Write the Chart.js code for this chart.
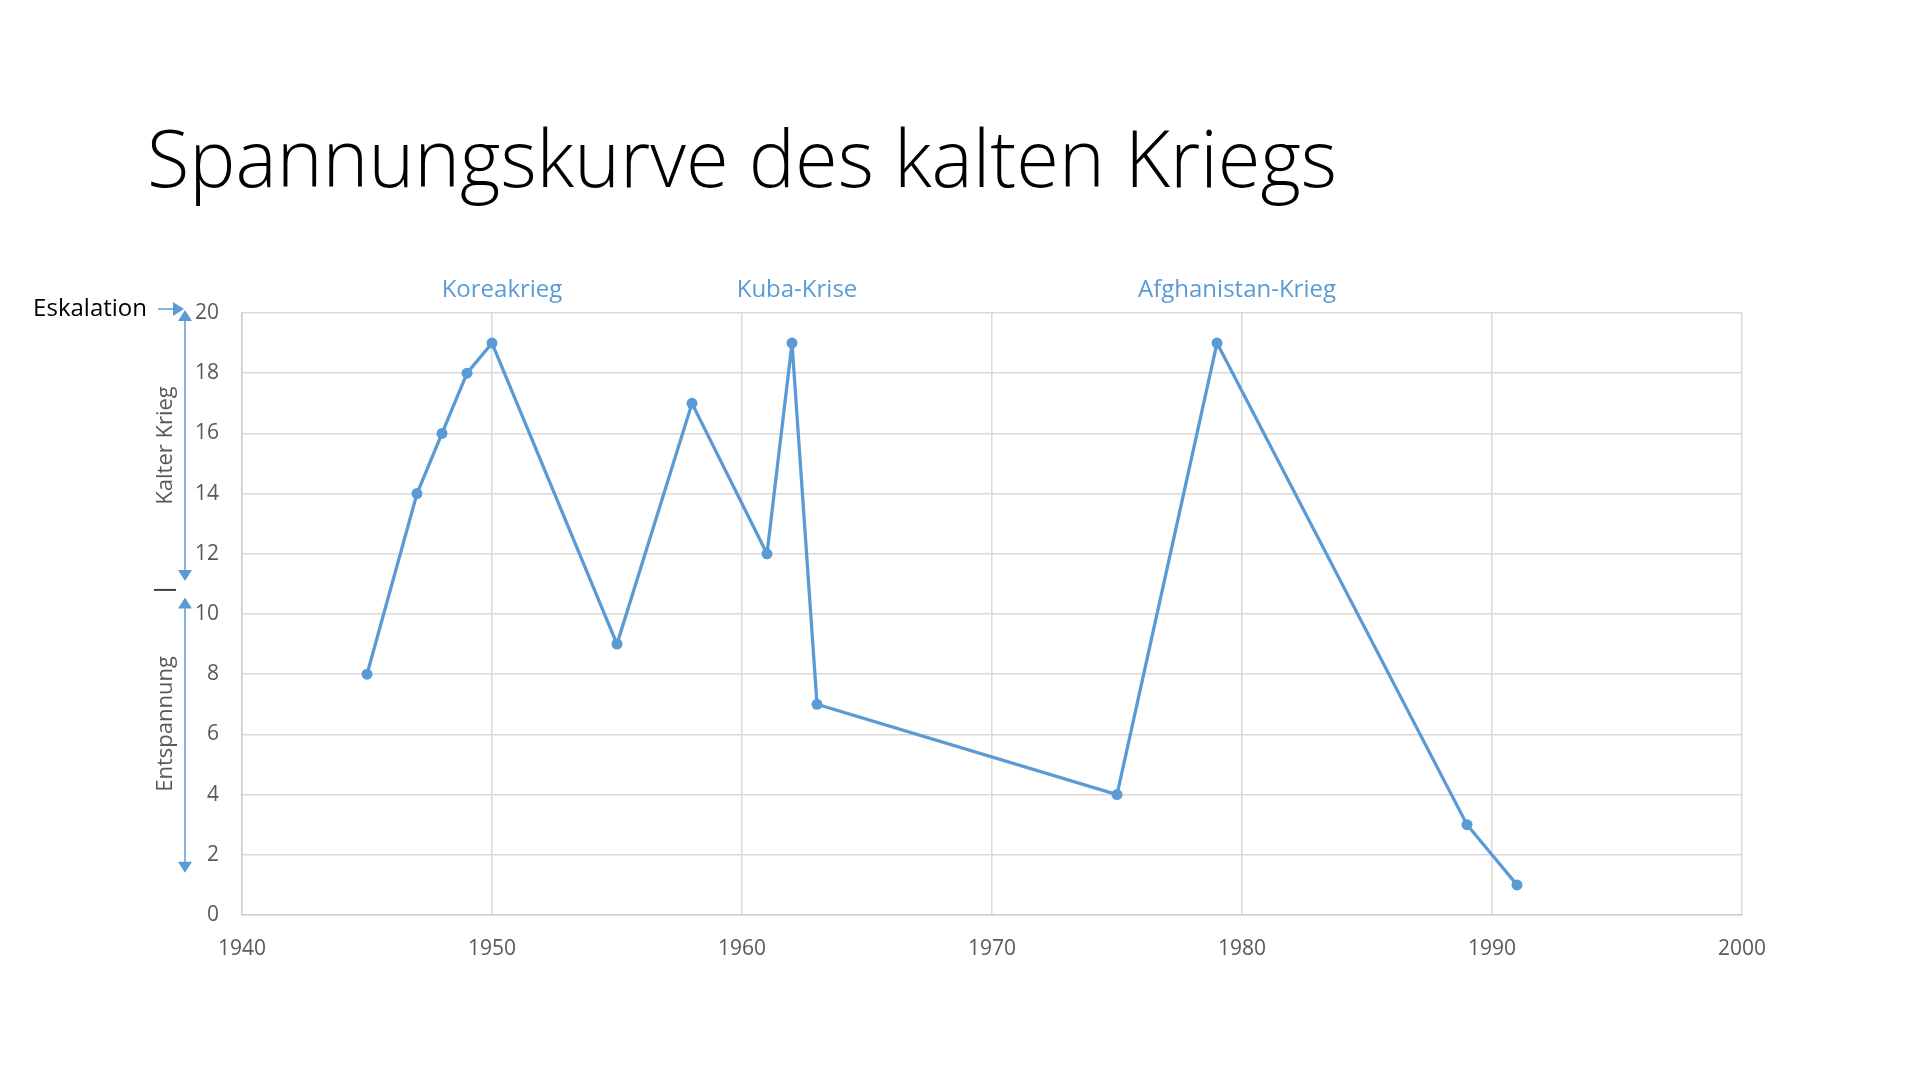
<!DOCTYPE html>
<html>
<head>
<meta charset="utf-8">
<script src="https://cdn.jsdelivr.net/npm/chart.js@4/dist/chart.umd.min.js"></script>
<style>
  html, body { margin: 0; padding: 0; background: #ffffff; }
  #wrap { width: 1920px; height: 1080px; position: relative; }
</style>
</head>
<body>
<div id="wrap"><canvas id="c" width="1920" height="1080"></canvas></div>
<script>
// ---- data ----
const years   = [1945, 1947, 1948, 1949, 1950, 1955, 1958, 1961, 1962, 1963, 1975, 1979, 1989, 1991];
const tension = [8, 14, 16, 18, 19, 9, 17, 12, 19, 7, 4, 19, 3, 1];
const xTicks  = [1940, 1950, 1960, 1970, 1980, 1990, 2000];
const yTicks  = [0, 2, 4, 6, 8, 10, 12, 14, 16, 18, 20];
const eventNames = ['Koreakrieg', 'Kuba-Krise', 'Afghanistan-Krieg'];
const eventYears = [1950.4, 1962.2, 1979.8];
const titleText = 'Spannungskurve des kalten Kriegs';
const topLabel = 'Eskalation';
const bandLabels = ['Kalter Krieg', 'Entspannung'];
const bandRanges = [[20, 11.1], [10.45, 1.4]];

const BLUE = '#5b9bd5';
const GRAY_TEXT = '#595959';
const GRID = '#d9d9d9';
const FONT = '"Open Sans", "DejaVu Sans", sans-serif';

function arrowHead(ctx, x, y, dir) {
  const s = 7, l = 11;
  ctx.beginPath();
  if (dir === 'up') { ctx.moveTo(x, y); ctx.lineTo(x - s, y + l); ctx.lineTo(x + s, y + l); }
  else if (dir === 'down') { ctx.moveTo(x, y); ctx.lineTo(x - s, y - l); ctx.lineTo(x + s, y - l); }
  else { ctx.moveTo(x, y); ctx.lineTo(x - l, y - s); ctx.lineTo(x - l, y + s); }
  ctx.closePath();
  ctx.fill();
}

const decor = {
  id: 'decor',
  afterDraw(chart) {
    const ctx = chart.ctx;
    const xs = chart.scales.x, ys = chart.scales.y;
    const area = chart.chartArea;
    ctx.save();

    // Title
    ctx.fillStyle = '#000000';
    ctx.font = '300 80px ' + FONT;
    ctx.textBaseline = 'alphabetic';
    ctx.textAlign = 'left';
    const tw = ctx.measureText(titleText).width;
    const targetW = 1190;
    ctx.save();
    ctx.translate(147, 187);
    ctx.scale(targetW / tw, 1);
    ctx.fillText(titleText, 0, 0);
    ctx.restore();

    // Event labels
    ctx.fillStyle = BLUE;
    ctx.font = '24px ' + FONT;
    ctx.textAlign = 'center';
    ctx.textBaseline = 'middle';
    eventNames.forEach((n, i) => {
      ctx.fillText(n, xs.getPixelForValue(eventYears[i]), area.top - 23);
    });

    // Eskalation label + small arrow
    const yTop = ys.getPixelForValue(20);
    ctx.fillStyle = '#000000';
    ctx.font = '24px ' + FONT;
    ctx.textAlign = 'right';
    ctx.textBaseline = 'middle';
    ctx.fillText(topLabel, 147, yTop - 4);

    const ax = 185;
    ctx.strokeStyle = BLUE;
    ctx.fillStyle = BLUE;
    ctx.lineWidth = 1.5;
    ctx.beginPath();
    ctx.moveTo(158, yTop - 4);
    ctx.lineTo(176, yTop - 4);
    ctx.stroke();
    arrowHead(ctx, 184, yTop - 4, 'right');

    // vertical double arrows
    bandRanges.forEach(r => {
      const y1 = ys.getPixelForValue(r[0]) - 3;
      const y2 = ys.getPixelForValue(r[1]);
      ctx.strokeStyle = BLUE;
      ctx.fillStyle = BLUE;
      ctx.lineWidth = 1.5;
      ctx.beginPath();
      ctx.moveTo(ax, y1 + 8);
      ctx.lineTo(ax, y2 - 8);
      ctx.stroke();
      arrowHead(ctx, ax, y1, 'up');
      arrowHead(ctx, ax, y2, 'down');
    });

    // separator dash
    ctx.strokeStyle = '#404040';
    ctx.lineWidth = 2;
    const yDash = ys.getPixelForValue(10.8);
    ctx.beginPath();
    ctx.moveTo(154, yDash);
    ctx.lineTo(176, yDash);
    ctx.stroke();

    // rotated band labels
    ctx.fillStyle = GRAY_TEXT;
    ctx.font = '22px ' + FONT;
    ctx.textAlign = 'center';
    ctx.textBaseline = 'middle';
    const centers = [15.6, 6.35];
    bandLabels.forEach((t, i) => {
      ctx.save();
      ctx.translate(166, ys.getPixelForValue(centers[i]));
      ctx.rotate(-Math.PI / 2);
      ctx.fillText(t, 0, 0);
      ctx.restore();
    });

    ctx.restore();
  }
};

new Chart(document.getElementById('c'), {
  type: 'line',
  data: {
    datasets: [{
      data: years.map((y, i) => ({ x: y, y: tension[i] })),
      borderColor: BLUE,
      backgroundColor: BLUE,
      borderWidth: 3.3,
      pointRadius: 5.5,
      pointBackgroundColor: BLUE,
      pointBorderColor: BLUE,
      pointBorderWidth: 0,
      tension: 0,
      fill: false
    }]
  },
  options: {
    responsive: false,
    animation: false,
    devicePixelRatio: 1,
    layout: { padding: { top: 313, right: 178, left: 0, bottom: 0 } },
    plugins: { legend: { display: false }, tooltip: { enabled: false }, title: { display: false } },
    scales: {
      x: {
        type: 'linear',
        min: 1940, max: 2000,
        afterFit(s) { s.height = 1080 - 915; },
        afterBuildTicks(s) { s.ticks = xTicks.map(v => ({ value: v })); },
        ticks: {
          callback: v => String(v),
          color: GRAY_TEXT,
          font: { family: FONT, size: 21 },
          padding: 21,
          maxRotation: 0,
          autoSkip: false
        },
        grid: { color: GRID, lineWidth: 1.5, drawTicks: false },
        border: { color: '#cfcfcf', width: 1.5 }
      },
      y: {
        min: 0, max: 20,
        afterFit(s) { s.width = 242; },
        afterBuildTicks(s) { s.ticks = yTicks.map(v => ({ value: v })); },
        ticks: {
          callback: v => String(v),
          color: GRAY_TEXT,
          font: { family: FONT, size: 21 },
          padding: 23,
          autoSkip: false
        },
        grid: { color: GRID, lineWidth: 1.5, drawTicks: false },
        border: { color: '#cfcfcf', width: 1.5 }
      }
    }
  },
  plugins: [decor]
});
</script>
</body>
</html>
